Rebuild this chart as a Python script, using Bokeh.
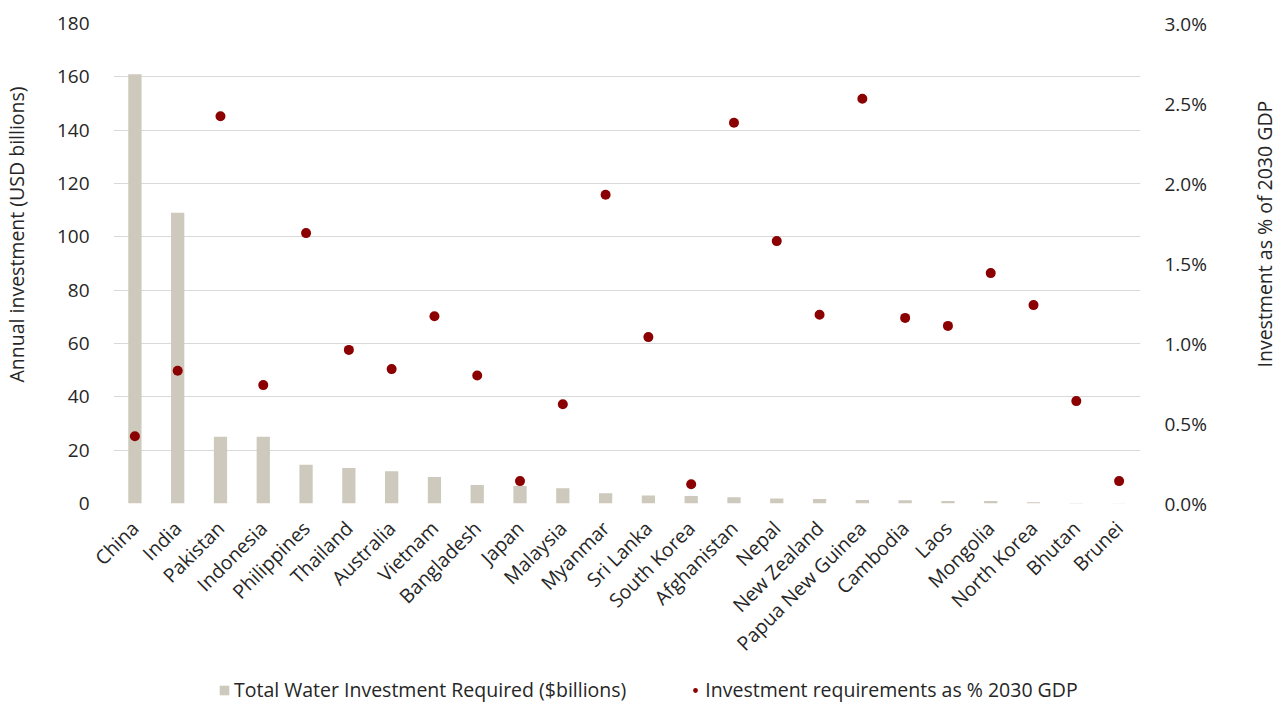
from bokeh.plotting import figure
from bokeh.layouts import gridplot
from bokeh.models import (ColumnDataSource, FactorRange, Range1d, LinearAxis, Title,
                          SingleIntervalTicker, NumeralTickFormatter, Legend, LegendItem)
from bokeh.embed import file_html
from bokeh.resources import INLINE
import math

countries = ["China", "India", "Pakistan", "Indonesia", "Philippines", "Thailand",
             "Australia", "Vietnam", "Bangladesh", "Japan", "Malaysia", "Myanmar",
             "Sri Lanka", "South Korea", "Afghanistan", "Nepal", "New Zealand",
             "Papua New Guinea", "Cambodia", "Laos", "Mongolia", "North Korea",
             "Bhutan", "Brunei"]
investment_bn = [161, 109, 25, 25, 14.5, 13.3, 12.1, 9.9, 6.9, 6.6, 5.7, 3.8,
                 3.0, 2.8, 2.3, 1.9, 1.7, 1.3, 1.2, 0.9, 0.9, 0.5, 0.15, 0.1]
pct_gdp = [0.0042, 0.0083, 0.0242, 0.0074, 0.0169, 0.0096, 0.0084, 0.0117,
           0.0080, 0.0014, 0.0062, 0.0193, 0.0104, 0.0012, 0.0238, 0.0164,
           0.0118, 0.0253, 0.0116, 0.0111, 0.0144, 0.0124, 0.0064, 0.0014]
left_title = "Annual investment (USD billions)"
right_title = "Investment as % of 2030 GDP"
bar_label = "Total Water Investment Required ($billions)"
dot_label = "Investment requirements as % 2030 GDP"

FONT = "Open Sans"
TXT = "#262626"
BAR = "#cdc9bc"
DOT = "#8b0000"
GRID = "#d9d9d9"
TICK_FS = "19px"
LBL_FS = "19.5px"

W_LEFT, W_RIGHT = 31, 33
W_MAIN = 1281 - W_LEFT - W_RIGHT
B_LEFT = 113 - W_LEFT
B_RIGHT = (1281 - W_RIGHT) - 1140
H_MAIN, B_TOP, B_BOTTOM = 671, 23, 168
H_LEG = 702 - H_MAIN

src = ColumnDataSource(dict(country=countries, inv=investment_bn, pct=pct_gdp))

p = figure(width=W_MAIN, height=H_MAIN, output_backend="svg", toolbar_location=None,
           x_range=FactorRange(*countries, range_padding=0),
           y_range=Range1d(0, 180))
p.min_border_left = B_LEFT
p.min_border_right = B_RIGHT
p.min_border_top = B_TOP
p.min_border_bottom = B_BOTTOM
p.outline_line_color = None
p.background_fill_color = "white"
p.border_fill_color = "white"

p.extra_y_ranges = {"pct": Range1d(0, 0.03)}

bars = p.vbar(x="country", top="inv", width=0.31, source=src,
              fill_color=BAR, line_color=None)
dots = p.scatter(x="country", y="pct", source=src, y_range_name="pct",
                 size=10, fill_color=DOT, line_color=None)

# left axis
ya = p.yaxis[0]
ya.ticker = SingleIntervalTicker(interval=20)
ya.axis_line_color = None
ya.major_tick_line_color = None
ya.minor_tick_line_color = None
ya.major_label_standoff = 18
ya.major_label_text_font = FONT
ya.major_label_text_font_size = TICK_FS
ya.major_label_text_color = TXT

# right axis
ra = LinearAxis(y_range_name="pct", ticker=SingleIntervalTicker(interval=0.005),
                formatter=NumeralTickFormatter(format="0.0%"))
ra.axis_line_color = None
ra.major_tick_line_color = None
ra.minor_tick_line_color = None
ra.major_label_standoff = 18
ra.major_label_text_font = FONT
ra.major_label_text_font_size = TICK_FS
ra.major_label_text_color = TXT
p.add_layout(ra, "right")

# x axis
xa = p.xaxis[0]
xa.axis_line_color = None
xa.major_tick_line_color = None
xa.minor_tick_line_color = None
xa.major_label_orientation = math.pi / 4
xa.major_label_standoff = 15
xa.major_label_text_font = FONT
xa.major_label_text_font_size = LBL_FS
xa.major_label_text_color = TXT

p.xgrid.grid_line_color = None
p.ygrid.grid_line_color = GRID
p.ygrid.grid_line_width = 1


def title_strip(width, text, offset):
    f = figure(width=width, height=H_MAIN, output_backend="svg", toolbar_location=None,
               x_axis_location=None, y_axis_location=None,
               x_range=Range1d(0, 1), y_range=Range1d(0, 1))
    f.min_border_left = 0
    f.min_border_right = 0
    f.min_border_top = B_TOP
    f.min_border_bottom = B_BOTTOM
    f.grid.grid_line_color = None
    f.outline_line_color = None
    t = Title(text=text, align="left", offset=offset, standoff=0,
              text_font=FONT, text_font_size=LBL_FS, text_font_style="normal",
              text_color=TXT)
    f.add_layout(t, "left")
    return f


lfig = title_strip(W_LEFT, left_title, 121)
rfig = title_strip(W_RIGHT, right_title, 136)

# legend strip below the chart (hidden proxies of the two series)
lf = figure(width=W_MAIN, height=H_LEG, output_backend="svg", toolbar_location=None,
            x_axis_location=None, y_axis_location=None,
            x_range=p.x_range, y_range=p.y_range)
lf.min_border_left = B_LEFT
lf.min_border_right = B_RIGHT
lf.min_border_top = 0
lf.min_border_bottom = 0
lf.grid.grid_line_color = None
lf.outline_line_color = None
lb = lf.vbar(x="country", top="inv", width=0.31, source=src,
             fill_color=BAR, line_color=None, visible=False)
ld = lf.scatter(x="country", y="inv", source=src, size=10,
                fill_color=DOT, line_color=None, visible=False)

legend = Legend(items=[
    LegendItem(label=bar_label, renderers=[lb]),
    LegendItem(label=dot_label, renderers=[ld]),
], orientation="horizontal", location=(105, -1))
legend.label_text_font = FONT
legend.label_text_font_size = LBL_FS
legend.label_text_color = TXT
legend.glyph_width = 12
legend.glyph_height = 12
legend.label_standoff = 4
legend.spacing = 63
legend.border_line_color = None
legend.background_fill_alpha = 0
legend.margin = 0
legend.padding = 0
lf.add_layout(legend)

grid = gridplot([[lfig, p, rfig], [None, lf, None]], toolbar_location=None)
open("out.html", "w").write(file_html(grid, INLINE))
